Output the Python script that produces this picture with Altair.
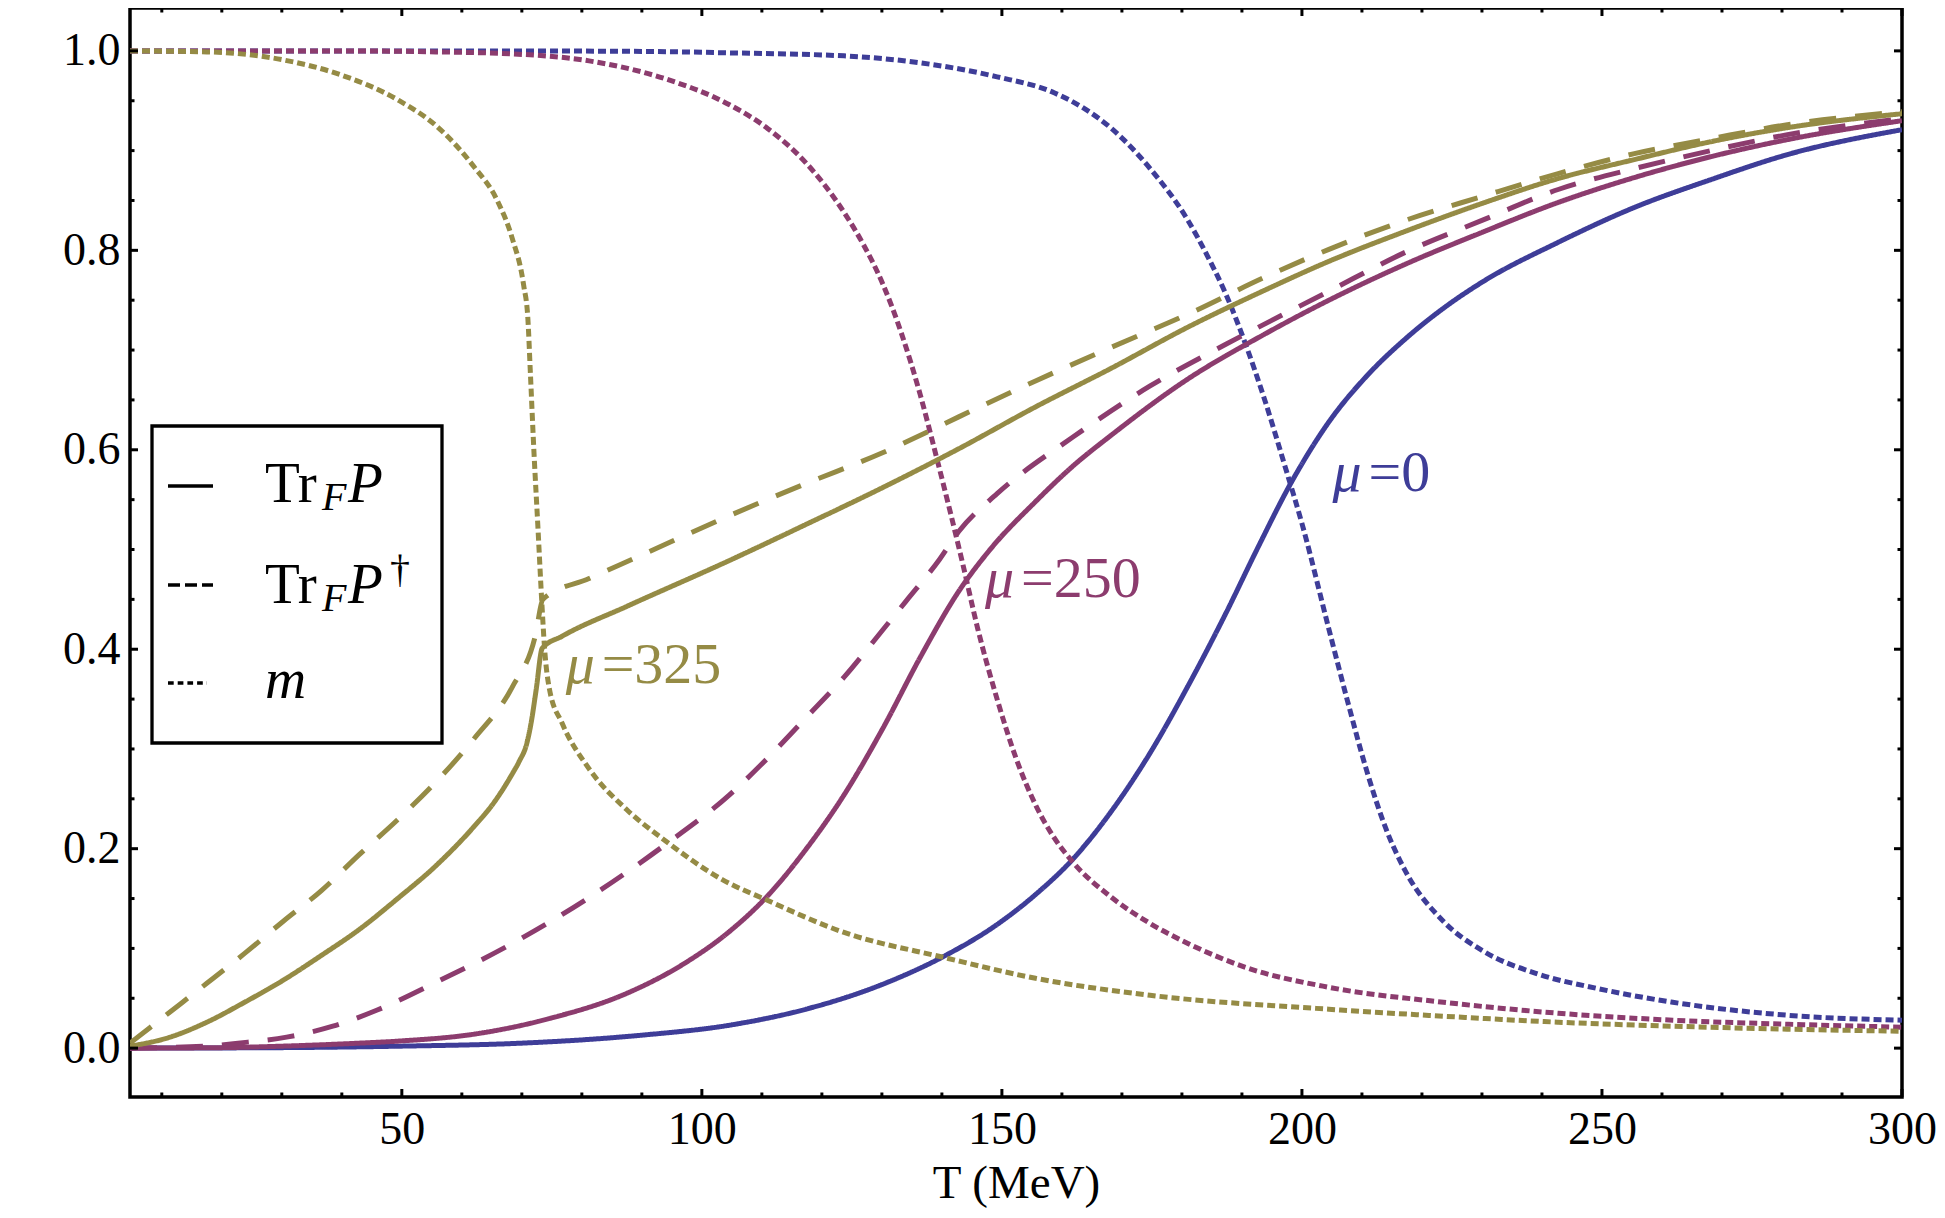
import altair as alt
import pandas as pd

# ---------------- data ----------------
# mu = 0 (blue)
T_blue_P = [4.7, 30.0, 50.0, 70.0, 90.0, 104.6, 117.3, 130.1, 140.3, 149.2, 155.6, 161.9, 168.3, 174.7,
            181.0, 187.4, 192.5, 198.2, 204.5, 210.8, 217.2, 223.6, 230.0, 242.7, 255.4, 268.2, 280.9, 300.0]
v_blue_P = [0.0, 0.0005, 0.002, 0.005, 0.013, 0.023, 0.039, 0.064, 0.092, 0.124, 0.154, 0.190, 0.238, 0.296,
            0.363, 0.437, 0.500, 0.567, 0.628, 0.674, 0.711, 0.742, 0.768, 0.808, 0.843, 0.871, 0.896, 0.921]
T_blue_m = [4.7, 60.0, 90.0, 104.6, 123.7, 136.4, 149.2, 158.7, 163.5, 168.3, 174.7, 181.0, 184.2, 187.4, 190.6,
            193.8, 197.0, 200.1, 204.5, 207.6, 210.8, 214.0, 217.2, 223.6, 230.0, 239.5, 249.1, 261.8, 280.9, 300.0]
v_blue_m = [1.0, 1.0, 0.9995, 0.998, 0.995, 0.988, 0.974, 0.958, 0.943, 0.922, 0.882, 0.830, 0.795, 0.755, 0.706,
            0.650, 0.587, 0.524, 0.420, 0.348, 0.278, 0.220, 0.178, 0.127, 0.098, 0.074, 0.060, 0.046, 0.033, 0.028]

# mu = 250 (purple)
T_pur_P = [4.7, 20.0, 30.2, 42.9, 49.3, 62.0, 74.8, 87.5, 97.1, 104.6, 111.0, 117.3, 123.7, 130.1, 136.4,
           142.8, 147.9, 155.6, 161.9, 168.3, 181.0, 193.8, 204.5, 217.2, 230.0, 242.7, 255.4, 268.2, 280.9, 300.0]
v_pur_P = [0.0, 0.0005, 0.002, 0.005, 0.007, 0.014, 0.030, 0.055, 0.085, 0.117, 0.153, 0.199, 0.254, 0.320, 0.392,
           0.458, 0.499, 0.548, 0.584, 0.615, 0.671, 0.716, 0.750, 0.786, 0.818, 0.848, 0.873, 0.894, 0.911, 0.930]
T_pur_Pd = [4.7, 17.5, 22.7, 30.8, 38.5, 45.8, 55.7, 68.4, 81.2, 93.9, 104.6, 111.0, 117.3, 123.7, 130.1,
            134.0, 139.6, 142.8, 149.2, 161.9, 174.7, 187.4, 204.5, 217.2, 230.0, 242.7, 255.4, 268.2, 280.9, 300.0]
v_pur_Pd = [0.0, 0.002, 0.005, 0.011, 0.022, 0.038, 0.066, 0.105, 0.151, 0.204, 0.254, 0.291, 0.331, 0.372, 0.419,
            0.448, 0.490, 0.518, 0.556, 0.613, 0.664, 0.706, 0.759, 0.798, 0.830, 0.861, 0.882, 0.900, 0.916, 0.932]
T_pur_m = [4.7, 40.0, 55.7, 68.4, 81.2, 93.9, 104.6, 111.0, 117.3, 123.7, 126.9, 130.1, 133.3, 136.4, 139.0,
           141.5, 143.5, 146.0, 149.2, 152.4, 155.6, 158.7, 161.9, 168.3, 174.7, 181.0, 190.6, 204.5, 223.6,
           242.7, 261.8, 280.9, 300.0]
v_pur_m = [1.0, 1.0, 0.999, 0.997, 0.990, 0.972, 0.946, 0.922, 0.888, 0.838, 0.806, 0.767, 0.716, 0.655, 0.595,
           0.535, 0.485, 0.420, 0.350, 0.290, 0.244, 0.211, 0.186, 0.151, 0.125, 0.105, 0.081, 0.061, 0.046,
           0.035, 0.028, 0.024, 0.021]

# mu = 325 (olive)
T_ol_P = [4.7, 11.1, 17.5, 23.8, 30.2, 36.6, 42.9, 49.3, 55.7, 62.0, 65.2, 68.4, 69.6, 70.8, 71.6, 72.4, 73.4,
          76.7, 87.5, 104.6, 117.3, 130.1, 142.8, 155.6, 168.3, 181.0, 193.8, 204.5, 217.2, 230.0,
          242.7, 255.4, 268.2, 280.9, 300.0]
v_ol_P = [0.002, 0.0105, 0.026, 0.046, 0.068, 0.093, 0.119, 0.150, 0.183, 0.222, 0.245, 0.275, 0.288, 0.305,
          0.328, 0.360, 0.401, 0.413, 0.443, 0.489, 0.525, 0.562, 0.601, 0.643, 0.682, 0.723, 0.760, 0.789,
          0.819, 0.847, 0.872, 0.891, 0.909, 0.923, 0.937]
T_ol_Pd = [4.7, 11.1, 17.5, 23.8, 30.2, 36.6, 42.9, 49.3, 55.7, 62.0, 68.4, 72.3, 73.5, 81.2, 89.8, 104.6,
           117.3, 130.1, 142.8, 155.6, 168.3, 181.0, 193.8, 204.5, 217.2, 230.0, 242.7, 255.4, 268.2, 280.9, 300.0]
v_ol_Pd = [0.005, 0.035, 0.065, 0.095, 0.127, 0.158, 0.194, 0.229, 0.267, 0.310, 0.362, 0.415, 0.450, 0.471,
           0.494, 0.534, 0.566, 0.597, 0.633, 0.669, 0.703, 0.736, 0.773, 0.801, 0.830, 0.854, 0.877, 0.897,
           0.912, 0.926, 0.939]
T_ol_m = [4.7, 17.5, 30.2, 39.8, 49.3, 55.7, 62.0, 65.9, 68.4, 70.3, 71.0, 71.4, 72.0, 72.7, 73.3, 73.8, 74.6,
          76.7, 81.1, 87.5, 93.9, 103.4, 111.0, 123.7, 140.3, 155.6, 174.7, 204.5, 223.6, 242.7, 261.8, 280.9, 300.0]
v_ol_m = [1.0, 0.999, 0.991, 0.976, 0.951, 0.925, 0.884, 0.850, 0.812, 0.765, 0.732, 0.680, 0.600, 0.520, 0.450,
          0.400, 0.360, 0.326, 0.281, 0.239, 0.208, 0.169, 0.148, 0.116, 0.091, 0.070, 0.053, 0.039, 0.032,
          0.026, 0.022, 0.019, 0.017]

# curve labels
label_T = [205.1, 147.2, 77.3]
label_v = [0.559, 0.452, 0.366]
label_mu = ["0", "250", "325"]
label_eq = ["=0", "=250", "=325"]

# ticks
x_major = [50, 100, 150, 200, 250, 300]
x_minor = [10, 20, 30, 40, 60, 70, 80, 90, 110, 120, 130, 140, 160, 170, 180, 190,
           210, 220, 230, 240, 260, 270, 280, 290]
y_major = [0.0, 0.2, 0.4, 0.6, 0.8, 1.0]
y_minor = [0.05, 0.1, 0.15, 0.25, 0.3, 0.35, 0.45, 0.5, 0.55, 0.65, 0.7, 0.75, 0.85, 0.9, 0.95]

mu_domain = ["0", "250", "325"]
mu_colors = ["#3e3d98", "#8c3c6e", "#958b45"]
styles = ["solid", "dashed", "dotted"]

# ---------------- build table ----------------
series = [
    ("blue_P", "0", "solid", T_blue_P, v_blue_P),
    ("blue_m", "0", "dotted", T_blue_m, v_blue_m),
    ("pur_P", "250", "solid", T_pur_P, v_pur_P),
    ("pur_Pd", "250", "dashed", T_pur_Pd, v_pur_Pd),
    ("pur_m", "250", "dotted", T_pur_m, v_pur_m),
    ("ol_P", "325", "solid", T_ol_P, v_ol_P),
    ("ol_Pd", "325", "dashed", T_ol_Pd, v_ol_Pd),
    ("ol_m", "325", "dotted", T_ol_m, v_ol_m),
]
rows = []
for name, mu, st, Ts, vs in series:
    for t, v in zip(Ts, vs):
        rows.append({"series": name, "mu": mu, "style": st, "T": t, "v": v})
df = pd.DataFrame(rows)

FONT = "Liberation Serif"
W, H = 1772, 1089
XDOM = [4.7, 300.0]
YDOM = [-0.049, 1.043]
xs = alt.Scale(domain=XDOM, nice=False, zero=False)
ys = alt.Scale(domain=YDOM, nice=False, zero=False)
cscale = alt.Scale(domain=mu_domain, range=mu_colors)

x_axis = alt.Axis(values=x_major, format="d", ticks=False, tickSize=0, domain=False, grid=False,
                  labelFont=FONT, labelFontSize=46, labelColor="black", labelBaseline="alphabetic",
                  labelPadding=46, labelFlush=False, labelOverlap=False, labelBound=False,
                  title="T (MeV)", titleFont=FONT, titleFontSize=47, titleFontWeight="normal",
                  titleColor="black", titleY=100, titleBaseline="alphabetic")
y_axis = alt.Axis(values=y_major, format=".1f", ticks=False, tickSize=0, domain=False, grid=False,
                  labelFont=FONT, labelFontSize=46, labelColor="black", labelBaseline="middle",
                  labelPadding=10, labelFlush=False, labelOverlap=False, title=None)


def X(field):
    return alt.X(field, scale=xs, axis=x_axis)


def Y(field):
    return alt.Y(field, scale=ys, axis=y_axis)


lines = alt.Chart(df).mark_line(interpolate="monotone", clip=True).encode(
    x=X("T:Q"),
    y=Y("v:Q"),
    color=alt.Color("mu:N", scale=cscale, legend=None),
    strokeDash=alt.StrokeDash("style:N", scale=alt.Scale(domain=styles, range=[[1, 0], [27, 19], [8, 4]]),
                              legend=None),
    strokeWidth=alt.StrokeWidth("style:N", scale=alt.Scale(domain=styles, range=[5, 5, 7]), legend=None),
    detail="series:N",
)

layers = [lines]

# frame ticks pointing inward, on all four sides
for vals, L in [(x_major, 8), (x_minor, 4.5)]:
    d = pd.DataFrame({"T": vals})
    layers.append(alt.Chart(d).mark_rule(color="black", strokeWidth=3).encode(
        x=X("T:Q"), y=alt.value(H), y2=alt.value(H - L)))
    layers.append(alt.Chart(d).mark_rule(color="black", strokeWidth=3).encode(
        x=X("T:Q"), y=alt.value(0), y2=alt.value(L)))
for vals, L in [(y_major, 8), (y_minor, 4.5)]:
    d = pd.DataFrame({"v": vals})
    layers.append(alt.Chart(d).mark_rule(color="black", strokeWidth=3).encode(
        y=Y("v:Q"), x=alt.value(0), x2=alt.value(L)))
    layers.append(alt.Chart(d).mark_rule(color="black", strokeWidth=3).encode(
        y=Y("v:Q"), x=alt.value(W), x2=alt.value(W - L)))

# curve labels
lab = pd.DataFrame({"T": label_T, "v": label_v, "mu": label_mu, "eq": label_eq})
layers.append(alt.Chart(lab).mark_text(font=FONT, fontSize=58, fontStyle="italic", align="left",
                                       baseline="alphabetic", text="μ").encode(
    x=X("T:Q"), y=Y("v:Q"),
    color=alt.Color("mu:N", scale=cscale, legend=None)))
layers.append(alt.Chart(lab).mark_text(font=FONT, fontSize=58, align="left", baseline="alphabetic",
                                       dx=36).encode(
    x=X("T:Q"), y=Y("v:Q"),
    color=alt.Color("mu:N", scale=cscale, legend=None), text="eq:N"))

# legend box
one = pd.DataFrame({"a": [0]})
layers.append(alt.Chart(one).mark_rect(fill="white", stroke="black", strokeWidth=3.3).encode(
    x=alt.value(22), x2=alt.value(312), y=alt.value(418), y2=alt.value(735)))
layers.append(alt.Chart(one).mark_rule(color="black", strokeWidth=3.3).encode(
    x=alt.value(38), x2=alt.value(83), y=alt.value(478)))
layers.append(alt.Chart(one).mark_rule(color="black", strokeWidth=3.3, strokeDash=[12, 5]).encode(
    x=alt.value(38), x2=alt.value(83), y=alt.value(577)))
layers.append(alt.Chart(one).mark_rule(color="black", strokeWidth=3.3, strokeDash=[5.7, 4]).encode(
    x=alt.value(38), x2=alt.value(77), y=alt.value(675)))


def txt(s, x, y, size, italic=False):
    kw = dict(font=FONT, fontSize=size, align="left", baseline="alphabetic", color="black", text=s)
    if italic:
        kw["fontStyle"] = "italic"
    return alt.Chart(one).mark_text(**kw).encode(x=alt.value(x), y=alt.value(y))


layers += [
    txt("Tr", 135, 494, 57), txt("F", 192, 502, 40, True), txt("P", 218, 494, 57, True),
    txt("Tr", 135, 595, 57), txt("F", 192, 603, 40, True), txt("P", 218, 595, 57, True),
    txt("†", 260, 574, 40),
    txt("m", 135, 690, 57, True),
]

chart = alt.layer(*layers).properties(
    width=W, height=H,
    padding={"left": 122, "top": 0, "right": 35, "bottom": 112},
    autosize=alt.AutoSizeParams(type="none"),
    background="white",
).configure_view(stroke="black", strokeWidth=3.5)

chart.save("out.html", embed_options={"renderer": "svg", "actions": False})
